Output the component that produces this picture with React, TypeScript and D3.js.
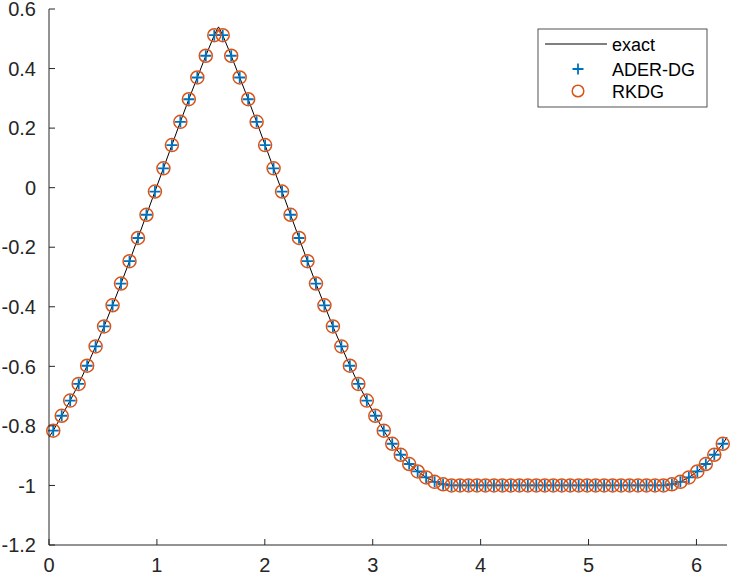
import React from 'react';
import * as d3 from 'd3';

// cell averages (80 cells on [0, 2*pi])
const aderDG = [
    -0.816, -0.766, -0.715, -0.659, -0.598, -0.533, -0.466, -0.395, -0.322, -0.247,
    -0.169, -0.091, -0.013, 0.065, 0.143, 0.221, 0.297, 0.370, 0.443, 0.512,
    0.512, 0.443, 0.370, 0.297, 0.221, 0.143, 0.065, -0.013, -0.091, -0.169,
    -0.247, -0.322, -0.395, -0.466, -0.533, -0.598, -0.659, -0.715, -0.766, -0.816,
    -0.860, -0.897, -0.928, -0.953, -0.973, -0.988, -0.996, -1, -1, -1,
    -1, -1, -1, -1, -1, -1, -1, -1, -1, -1,
    -1, -1, -1, -1, -1, -1, -1, -1, -1, -1,
    -1, -1, -1, -0.996, -0.988, -0.973, -0.953, -0.928, -0.897, -0.860,
];
// RKDG lands on the same values at this resolution
const rkdg = aderDG;

// exact solution: end values and the peak at pi/2
const exactLeft = -0.838;
const exactRight = -0.838;
const exactPeak = 0.54;

const xTicks = [0, 1, 2, 3, 4, 5, 6];
const yTicks = [-1.2, -1, -0.8, -0.6, -0.4, -0.2, 0, 0.2, 0.4, 0.6];
const legendLabels = ['exact', 'ADER-DG', 'RKDG'];

const W = 732;
const H = 575;
const margin = {top: 9, right: 5, bottom: 30, left: 49};
const axisColor = '#262626';
const blue = '#0072BD';
const orange = '#D95319';
const font = '"Liberation Sans", Arial, Helvetica, sans-serif';

const App = () => {
    const n = aderDG.length;
    const dx = (2 * Math.PI) / n;
    const xs = aderDG.map((_, i) => (i + 0.5) * dx);

    const xScale = d3.scaleLinear().domain([0, 2 * Math.PI]).range([margin.left, W - margin.right]);
    const yScale = d3.scaleLinear().domain([-1.2, 0.6]).range([H - margin.bottom, margin.top]);

    // exact curve: cell centres plus the peak and both ends
    let exactPts: [number, number][] = xs.map((x, i) => [x, aderDG[i]]);
    exactPts.push([Math.PI / 2, exactPeak]);
    exactPts.push([0, exactLeft]);
    exactPts.push([2 * Math.PI, exactRight]);
    exactPts = exactPts.sort((a, b) => a[0] - b[0]);

    const line = d3.line<[number, number]>()
        .x(d => xScale(d[0]))
        .y(d => yScale(d[1]));

    const x0 = xScale.range()[0];
    const x1 = xScale.range()[1];
    const yBottom = yScale.range()[0];
    const yTop = yScale.range()[1];
    const tickLen = 6;
    const ps = 5.5; // plus half size
    const cr = 6.5; // circle radius

    const fmt = (v: number) => d3.format('')(v).replace('\u2212', '-');

    const lg = {x: 538, y: 29, w: 169, h: 78};

    return (
        <div style={{position: 'absolute', left: 0, top: 0}}>
            <svg width={W} height={H} style={{display: 'block', background: '#fff'}} fontFamily={font}>
                <path d={line(exactPts) || ''} fill="none" stroke="#000" strokeWidth={1} />
                {xs.map((x, i) => (
                    <path key={'p' + i}
                          d={`M${xScale(x) - ps},${yScale(aderDG[i])}h${2 * ps}M${xScale(x)},${yScale(aderDG[i]) - ps}v${2 * ps}`}
                          stroke={blue} strokeWidth={1.8} fill="none" />
                ))}
                {xs.map((x, i) => (
                    <circle key={'c' + i} cx={xScale(x)} cy={yScale(rkdg[i])} r={cr}
                            fill="none" stroke={orange} strokeWidth={1.5} />
                ))}

                {/* axes */}
                <line x1={x0} x2={x0} y1={yTop} y2={yBottom} stroke={axisColor} strokeWidth={1} />
                <line x1={x0} x2={x1} y1={yBottom} y2={yBottom} stroke={axisColor} strokeWidth={1} />
                {yTicks.map(t => (
                    <g key={'y' + t}>
                        <line x1={x0} x2={x0 + tickLen} y1={yScale(t)} y2={yScale(t)} stroke={axisColor} />
                        <text x={x0 - 13} y={yScale(t)} dy="0.36em" textAnchor="end" fontSize={20} fill={axisColor}>
                            {fmt(t)}
                        </text>
                    </g>
                ))}
                {xTicks.map(t => (
                    <g key={'x' + t}>
                        <line x1={xScale(t)} x2={xScale(t)} y1={yBottom} y2={yBottom - tickLen} stroke={axisColor} />
                        <text x={xScale(t)} y={572} textAnchor="middle" fontSize={20} fill={axisColor}>
                            {fmt(t)}
                        </text>
                    </g>
                ))}

                {/* legend */}
                <rect x={lg.x} y={lg.y} width={lg.w} height={lg.h} fill="#fff" stroke={axisColor} strokeWidth={0.8} />
                <line x1={545} x2={607} y1={44} y2={44} stroke="#000" strokeWidth={1} />
                <path d={`M${578 - ps},69h${2 * ps}M578,${69 - ps}v${2 * ps}`} stroke={blue} strokeWidth={1.8} fill="none" />
                <circle cx={578} cy={91} r={5.8} fill="none" stroke={orange} strokeWidth={1.5} />
                {legendLabels.map((l, i) => (
                    <text key={l} x={612} y={[50.5, 76, 98][i]} fontSize={18} fill="#000">{l}</text>
                ))}
            </svg>
        </div>
    );
};

export default App;
